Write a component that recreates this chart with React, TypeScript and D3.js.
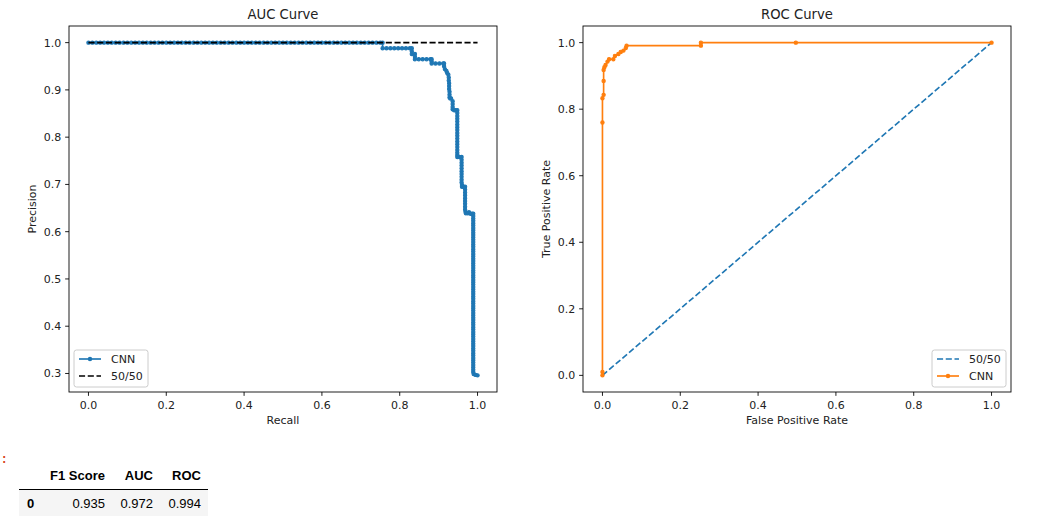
import React from 'react';
import * as d3 from 'd3';

// ---------- data ----------
// precision-recall curve: [recall, precision]
const prCurve: [number, number][] = [
  [0.00, 1], [0.01, 1], [0.02, 1], [0.03, 1], [0.04, 1], [0.05, 1], [0.06, 1], [0.07, 1], [0.08, 1], [0.09, 1],
  [0.10, 1], [0.11, 1], [0.12, 1], [0.13, 1], [0.14, 1], [0.15, 1], [0.16, 1], [0.17, 1], [0.18, 1], [0.19, 1],
  [0.20, 1], [0.21, 1], [0.22, 1], [0.23, 1], [0.24, 1], [0.25, 1], [0.26, 1], [0.27, 1], [0.28, 1], [0.29, 1],
  [0.30, 1], [0.31, 1], [0.32, 1], [0.33, 1], [0.34, 1], [0.35, 1], [0.36, 1], [0.37, 1], [0.38, 1], [0.39, 1],
  [0.40, 1], [0.41, 1], [0.42, 1], [0.43, 1], [0.44, 1], [0.45, 1], [0.46, 1], [0.47, 1], [0.48, 1], [0.49, 1],
  [0.50, 1], [0.51, 1], [0.52, 1], [0.53, 1], [0.54, 1], [0.55, 1], [0.56, 1], [0.57, 1], [0.58, 1], [0.59, 1],
  [0.60, 1], [0.61, 1], [0.62, 1], [0.63, 1], [0.64, 1], [0.65, 1], [0.66, 1], [0.67, 1], [0.68, 1], [0.69, 1],
  [0.70, 1], [0.71, 1], [0.72, 1], [0.73, 1], [0.74, 1], [0.75, 1], [0.756, 1],
  [0.756, 0.988], [0.766, 0.988], [0.776, 0.988], [0.786, 0.988], [0.796, 0.988], [0.806, 0.988], [0.816, 0.988],
  [0.826, 0.988], [0.831, 0.988],
  [0.831, 0.982], [0.831, 0.976], [0.839, 0.976], [0.839, 0.970], [0.839, 0.965],
  [0.849, 0.965], [0.859, 0.965], [0.869, 0.965], [0.879, 0.965], [0.882, 0.965],
  [0.882, 0.960], [0.882, 0.956], [0.892, 0.956], [0.902, 0.956], [0.912, 0.956], [0.914, 0.956],
  [0.914, 0.950], [0.916, 0.944], [0.920, 0.940], [0.922, 0.936], [0.925, 0.932], [0.926, 0.926],
  [0.926, 0.920], [0.927, 0.914], [0.927, 0.908], [0.927, 0.902], [0.928, 0.896], [0.928, 0.890],
  [0.928, 0.884], [0.930, 0.882], [0.932, 0.882],
  [0.936, 0.876], [0.936, 0.870], [0.936, 0.864], [0.936, 0.859], [0.940, 0.857], [0.944, 0.857], [0.948, 0.857],
  [0.948, 0.851], [0.948, 0.845], [0.948, 0.839], [0.948, 0.833], [0.948, 0.827], [0.948, 0.821],
  [0.948, 0.815], [0.948, 0.809], [0.948, 0.803], [0.948, 0.797], [0.948, 0.791], [0.948, 0.785],
  [0.948, 0.779], [0.948, 0.773], [0.948, 0.767], [0.948, 0.762], [0.948, 0.758],
  [0.953, 0.758], [0.959, 0.758],
  [0.959, 0.752], [0.959, 0.746], [0.959, 0.740], [0.959, 0.734], [0.959, 0.728], [0.959, 0.722],
  [0.959, 0.716], [0.959, 0.710], [0.959, 0.704], [0.960, 0.699], [0.960, 0.695],
  [0.964, 0.695], [0.968, 0.695],
  [0.968, 0.689], [0.968, 0.683], [0.968, 0.677], [0.968, 0.671], [0.968, 0.665], [0.968, 0.659],
  [0.968, 0.653], [0.968, 0.647], [0.969, 0.642], [0.970, 0.639],
  [0.975, 0.639], [0.978, 0.641], [0.982, 0.638], [0.986, 0.638], [0.989, 0.638],
  [0.989, 0.633], [0.989, 0.628], [0.989, 0.623], [0.989, 0.618], [0.989, 0.613], [0.989, 0.608],
  [0.989, 0.603], [0.989, 0.598], [0.989, 0.593], [0.989, 0.588], [0.989, 0.583], [0.989, 0.578],
  [0.989, 0.573], [0.989, 0.568], [0.989, 0.563], [0.989, 0.558], [0.989, 0.553], [0.989, 0.548],
  [0.989, 0.543], [0.989, 0.538], [0.989, 0.533], [0.989, 0.528], [0.989, 0.523], [0.989, 0.518],
  [0.989, 0.513], [0.989, 0.508], [0.989, 0.503], [0.989, 0.498], [0.989, 0.493], [0.989, 0.488],
  [0.989, 0.483], [0.989, 0.478], [0.989, 0.473], [0.989, 0.468], [0.989, 0.463], [0.989, 0.458],
  [0.989, 0.453], [0.989, 0.448], [0.989, 0.443], [0.989, 0.438], [0.989, 0.433], [0.989, 0.428],
  [0.989, 0.423], [0.989, 0.418], [0.989, 0.413], [0.989, 0.408], [0.989, 0.403], [0.989, 0.398],
  [0.989, 0.393], [0.989, 0.388], [0.989, 0.383], [0.989, 0.378], [0.989, 0.373], [0.989, 0.368],
  [0.989, 0.363], [0.989, 0.358], [0.989, 0.353], [0.989, 0.348], [0.989, 0.343], [0.989, 0.338],
  [0.989, 0.333], [0.989, 0.328], [0.989, 0.323], [0.989, 0.318], [0.989, 0.313], [0.989, 0.308],
  [0.989, 0.303], [0.990, 0.299],
  [0.995, 0.297], [1.000, 0.296],
];
const prChance: [number, number][] = [[0, 1], [1, 1]];

// ROC curve: [false positive rate, true positive rate]
const rocCurve: [number, number][] = [
  [0.000, 0.000], [0.000, 0.010], [0.000, 0.760], [0.000, 0.833], [0.003, 0.843], [0.003, 0.885],
  [0.003, 0.918], [0.005, 0.926], [0.008, 0.933], [0.013, 0.943], [0.017, 0.950], [0.028, 0.950],
  [0.032, 0.960], [0.041, 0.966], [0.047, 0.972], [0.054, 0.976], [0.060, 0.984], [0.062, 0.991],
  [0.253, 0.991], [0.253, 1.000], [0.497, 1.000], [1.000, 1.000],
];
const rocChance: [number, number][] = [[0, 0], [1, 1]];

const xTicks = [0, 0.2, 0.4, 0.6, 0.8, 1.0];
const prYTicks = [0.3, 0.4, 0.5, 0.6, 0.7, 0.8, 0.9, 1.0];
const rocYTicks = [0, 0.2, 0.4, 0.6, 0.8, 1.0];

const tableColumns = ['F1 Score', 'AUC', 'ROC'];
const tableIndex = ['0'];
const tableValues = [[0.935, 0.972, 0.994]];

// ---------- style ----------
const C0 = '#1f77b4';
const C1 = '#ff7f0e';
const FONT = 'DejaVu Sans, sans-serif';
const S = 1.1; // pt -> px
const LW = 1.5 * S;
const DASH = `${3.7 * LW} ${1.6 * LW}`;
const TICK = 3.5 * S;

type Series = { data: [number, number][]; color: string; dashed?: boolean; marker?: boolean; label: string };

function Panel(props: {
  x0: number; x1: number; y0: number; y1: number;
  yDomain: [number, number]; yTicks: number[];
  title: string; xLabel: string; yLabel: string;
  series: Series[]; legend: Series[]; legendRight: boolean;
}) {
  const { x0, x1, y0, y1, yDomain, yTicks, title, xLabel, yLabel, series, legend, legendRight } = props;
  const x = d3.scaleLinear().domain([-0.05, 1.05]).range([x0, x1]);
  const y = d3.scaleLinear().domain(yDomain).range([y1, y0]);
  const line = d3.line<[number, number]>().x(d => x(d[0])).y(d => y(d[1]));
  const fmt = d3.format('.1f');
  const r = 0.25 * 6 * S;

  const lgW = 74;
  const lgH = 37;
  const lgX = legendRight ? x1 - 5 - lgW : x0 + 5;
  const lgY = y1 - 5 - lgH;

  return (
    <g>
      {series.map((s, i) => (
        <g key={i}>
          <path d={line(s.data) || ''} fill="none" stroke={s.color} strokeWidth={LW}
            strokeDasharray={s.dashed ? DASH : undefined} strokeLinejoin="round" />
          {s.marker && s.data.map((d, j) => (
            <circle key={j} cx={x(d[0])} cy={y(d[1])} r={r} fill={s.color} stroke={s.color} strokeWidth={1 * S} />
          ))}
        </g>
      ))}
      <rect x={x0} y={y0} width={x1 - x0} height={y1 - y0} fill="none" stroke="#000" strokeWidth={0.8 * S} />
      {xTicks.map((t, i) => (
        <g key={i}>
          <line x1={x(t)} x2={x(t)} y1={y1} y2={y1 + TICK} stroke="#000" strokeWidth={0.8 * S} />
          <text x={x(t)} y={y1 + 17} textAnchor="middle" fontSize={11} fontFamily={FONT} fill="#222">{fmt(t)}</text>
        </g>
      ))}
      {yTicks.map((t, i) => (
        <g key={i}>
          <line x1={x0 - TICK} x2={x0} y1={y(t)} y2={y(t)} stroke="#000" strokeWidth={0.8 * S} />
          <text x={x0 - TICK - 3.9} y={y(t) + 4} textAnchor="end" fontSize={11} fontFamily={FONT} fill="#222">{fmt(t)}</text>
        </g>
      ))}
      <text x={(x0 + x1) / 2} y={y0 - 7} textAnchor="middle" fontSize={13.2} fontFamily={FONT} fill="#222">{title}</text>
      <text x={(x0 + x1) / 2} y={y1 + 32} textAnchor="middle" fontSize={11} fontFamily={FONT} fill="#222">{xLabel}</text>
      <text transform={`translate(${x0 - 33},${(y0 + y1) / 2}) rotate(-90)`} textAnchor="middle" fontSize={11} fontFamily={FONT} fill="#222">{yLabel}</text>
      <rect x={lgX} y={lgY} width={lgW} height={lgH} rx={2.5}
        fill="#fff" fillOpacity={0.8} stroke="#cccccc" strokeWidth={1} />
      {legend.map((s, i) => {
        const cy = lgY + 9 + i * 17;
        return (
          <g key={i}>
            <line x1={lgX + 5} x2={lgX + 27} y1={cy} y2={cy} stroke={s.color} strokeWidth={LW}
              strokeDasharray={s.dashed ? DASH : undefined} />
            {s.marker && <circle cx={lgX + 16} cy={cy} r={r} fill={s.color} stroke={s.color} strokeWidth={S} />}
            <text x={lgX + 37} y={cy + 4} fontSize={11} fontFamily={FONT} fill="#222">{s.label}</text>
          </g>
        );
      })}
    </g>
  );
}

function Table() {
  const rights = [105, 153, 201];
  const fmt = d3.format('.3f');
  return (
    <g fontFamily="Liberation Sans, Arial, sans-serif" fontSize={13} fill="#000">
      <text x={0} y={463} fontSize={14} fontFamily="DejaVu Sans Mono, monospace" fill="#d84315">:</text>
      {tableColumns.map((c, i) => (
        <text key={i} x={rights[i]} y={480} textAnchor="end" fontWeight="bold">{c}</text>
      ))}
      <line x1={19} x2={208} y1={489.5} y2={489.5} stroke="#000" strokeWidth={1} />
      {tableIndex.map((idx, r) => (
        <g key={r}>
          <rect x={19} y={490} width={189} height={26} fill="#f5f5f5" />
          <text x={27} y={508} fontWeight="bold">{idx}</text>
          {tableValues[r].map((v, i) => (
            <text key={i} x={rights[i]} y={508} textAnchor="end">{fmt(v)}</text>
          ))}
        </g>
      ))}
    </g>
  );
}

export default function App() {
  const prCNN: Series = { data: prCurve, color: C0, marker: true, label: 'CNN' };
  const prHalf: Series = { data: prChance, color: '#000', dashed: true, label: '50/50' };
  const rocHalf: Series = { data: rocChance, color: C0, dashed: true, label: '50/50' };
  const rocCNN: Series = { data: rocCurve, color: C1, marker: true, label: 'CNN' };
  const prMin = 0.296, prMax = 1.0, prPad = (prMax - prMin) * 0.05;
  return (
    <svg width={1052} height={520} style={{ position: 'absolute', left: 0, top: 0, background: '#fff' }}>
      <rect width={1052} height={520} fill="#fff" />
      <Panel x0={69} x1={497} y0={26} y1={392} yDomain={[prMin - prPad, prMax + prPad]} yTicks={prYTicks}
        title="AUC Curve" xLabel="Recall" yLabel="Precision" series={[prCNN, prHalf]} legend={[prCNN, prHalf]} legendRight={false} />
      <Panel x0={583} x1={1011} y0={26} y1={392} yDomain={[-0.05, 1.05]} yTicks={rocYTicks}
        title="ROC Curve" xLabel="False Positive Rate" yLabel="True Positive Rate" series={[rocHalf, rocCNN]} legend={[rocHalf, rocCNN]} legendRight={true} />
      <Table />
    </svg>
  );
}
